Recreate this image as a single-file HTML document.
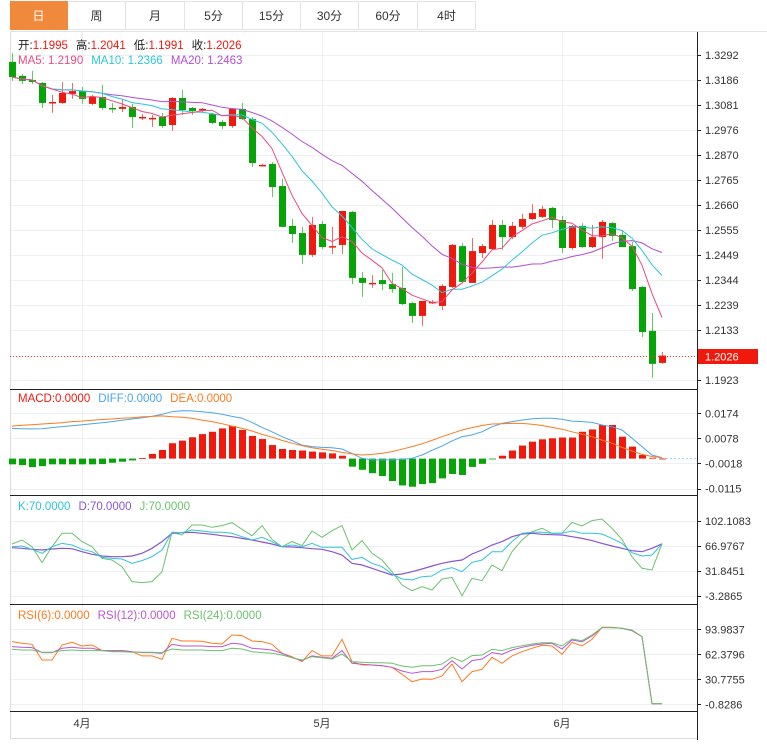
<!DOCTYPE html>
<html><head><meta charset="utf-8"><style>
body{margin:0;background:#fff;font-family:"Liberation Sans","Noto Sans CJK SC",sans-serif;}
#wrap{position:relative;width:767px;height:746px;overflow:hidden;}
.tab{position:absolute;z-index:2;top:1px;height:29px;width:57px;border:1px solid #e3e3e3;border-left:none;font-size:12px;color:#333;text-align:center;line-height:29px;background:#fff;box-sizing:border-box;}
svg{position:absolute;left:0;top:0;z-index:1;}
</style></head><body>
<div id="wrap">
<div class="tab" style="left:10px;width:58px;background:#f0893c;color:#fff;border-color:#f0893c">日</div>
<div class="tab" style="left:68px;width:58px">周</div>
<div class="tab" style="left:126px;width:59px">月</div>
<div class="tab" style="left:185px;width:58px">5分</div>
<div class="tab" style="left:243px;width:58px">15分</div>
<div class="tab" style="left:301px;width:58px">30分</div>
<div class="tab" style="left:359px;width:59px">60分</div>
<div class="tab" style="left:418px;width:58px">4时</div>
<svg id="chart" width="767" height="746"></svg>
</div>
<script>
const opens=[1.3263,1.3204,1.3187,1.3174,1.3090,1.3090,1.3128,1.3140,1.3086,1.3115,1.3069,1.3065,1.3073,1.3027,1.3022,1.3031,1.2997,1.3111,1.3069,1.3060,1.3043,1.3010,1.2993,1.3065,1.3022,1.2824,1.2833,1.2740,1.2572,1.2542,1.2450,1.2580,1.2483,1.2492,1.2631,1.2353,1.2327,1.2344,1.2327,1.2311,1.2247,1.2193,1.2247,1.2235,1.2315,1.2487,1.2332,1.2458,1.2475,1.2576,1.2525,1.2568,1.2601,1.2610,1.2648,1.2597,1.2479,1.2572,1.2483,1.2525,1.2584,1.2534,1.2487,1.2315,1.2130,1.1995];
const highs=[1.3300,1.3212,1.3225,1.3178,1.3124,1.3178,1.3174,1.3157,1.3124,1.3166,1.3090,1.3103,1.3086,1.3043,1.3039,1.3048,1.3115,1.3145,1.3073,1.3069,1.3048,1.3018,1.3069,1.3090,1.3031,1.2833,1.2841,1.2770,1.2601,1.2568,1.2610,1.2593,1.2568,1.2635,1.2635,1.2378,1.2365,1.2386,1.2374,1.2399,1.2252,1.2256,1.2260,1.2327,1.2496,1.2500,1.2521,1.2496,1.2597,1.2597,1.2589,1.2622,1.2664,1.2656,1.2652,1.2614,1.2576,1.2584,1.2576,1.2597,1.2589,1.2555,1.2504,1.2319,1.2205,1.2041];
const lows=[1.3183,1.3170,1.3170,1.3069,1.3048,1.3086,1.3107,1.3086,1.3081,1.3060,1.3048,1.3052,1.2985,1.3018,1.2989,1.2985,1.2972,1.3039,1.3039,1.3052,1.3001,1.2980,1.2985,1.3018,1.2820,1.2824,1.2694,1.2568,1.2500,1.2412,1.2441,1.2475,1.2454,1.2454,1.2327,1.2273,1.2311,1.2302,1.2290,1.2239,1.2163,1.2151,1.2243,1.2218,1.2311,1.2332,1.2332,1.2437,1.2471,1.2471,1.2517,1.2559,1.2597,1.2605,1.2563,1.2458,1.2471,1.2479,1.2479,1.2433,1.2509,1.2483,1.2298,1.2104,1.1932,1.1991];
const closes=[1.3199,1.3183,1.3178,1.3090,1.3094,1.3132,1.3140,1.3107,1.3115,1.3069,1.3065,1.3073,1.3031,1.3031,1.3027,1.2993,1.3111,1.3060,1.3056,1.3065,1.3006,1.2993,1.3065,1.3022,1.2837,1.2829,1.2736,1.2568,1.2538,1.2450,1.2576,1.2483,1.2487,1.2635,1.2353,1.2332,1.2332,1.2327,1.2306,1.2243,1.2193,1.2256,1.2252,1.2319,1.2492,1.2336,1.2466,1.2487,1.2576,1.2525,1.2572,1.2601,1.2626,1.2643,1.2597,1.2479,1.2572,1.2483,1.2525,1.2589,1.2530,1.2483,1.2306,1.2125,1.1991,1.2026];
const priceTicks=["1.3292","1.3186","1.3081","1.2976","1.2870","1.2765","1.2660","1.2555","1.2449","1.2344","1.2239","1.2133","1.1923"];
const macdHist=[-0.0022,-0.0025,-0.0033,-0.0029,-0.0022,-0.0022,-0.0022,-0.0022,-0.0022,-0.0021,-0.0016,-0.0012,-0.0007,0.0002,0.0018,0.0033,0.0059,0.0069,0.0082,0.0094,0.0103,0.0116,0.0125,0.0110,0.0087,0.0075,0.0052,0.0037,0.0033,0.0031,0.0027,0.0024,0.0020,0.0011,-0.0031,-0.0043,-0.0056,-0.0067,-0.0086,-0.0103,-0.0108,-0.0098,-0.0094,-0.0076,-0.0059,-0.0063,-0.0032,-0.0020,-0.0002,0.0011,0.0031,0.0050,0.0065,0.0074,0.0078,0.0081,0.0081,0.0103,0.0112,0.0129,0.0129,0.0084,0.0046,0.0014,0.0003,0.0000];
const diffVals=[0.0116,0.0115,0.0114,0.0115,0.0119,0.0123,0.0126,0.0130,0.0134,0.0138,0.0142,0.0147,0.0152,0.0157,0.0162,0.0170,0.0180,0.0184,0.0183,0.0180,0.0176,0.0170,0.0162,0.0155,0.0139,0.0120,0.0103,0.0084,0.0069,0.0052,0.0046,0.0043,0.0042,0.0037,0.0020,0.0001,-0.0005,-0.0005,-0.0005,-0.0004,0.0001,0.0014,0.0032,0.0048,0.0068,0.0084,0.0091,0.0103,0.0122,0.0135,0.0142,0.0148,0.0153,0.0155,0.0155,0.0151,0.0144,0.0142,0.0139,0.0129,0.0122,0.0110,0.0078,0.0046,0.0014,0.0004];
const deaVals=[0.0125,0.0128,0.0130,0.0133,0.0135,0.0138,0.0142,0.0144,0.0147,0.0150,0.0152,0.0155,0.0157,0.0160,0.0162,0.0164,0.0161,0.0159,0.0155,0.0148,0.0142,0.0134,0.0125,0.0116,0.0106,0.0093,0.0082,0.0070,0.0059,0.0050,0.0042,0.0036,0.0031,0.0024,0.0018,0.0014,0.0016,0.0020,0.0027,0.0036,0.0046,0.0057,0.0070,0.0084,0.0097,0.0110,0.0119,0.0127,0.0133,0.0134,0.0135,0.0135,0.0132,0.0127,0.0120,0.0113,0.0103,0.0094,0.0084,0.0071,0.0059,0.0043,0.0029,0.0016,0.0008,0.0003];
const macdTicks=["0.0174","0.0078","-0.0018","-0.0115"];
const kVals=[66.0,67.0,62.3,56.7,66.0,70.7,68.4,62.3,59.0,51.0,49.6,48.7,42.6,46.4,52.0,61.4,86.2,85.7,89.5,88.1,86.2,86.2,84.8,80.1,75.4,79.2,73.1,66.0,68.4,66.0,70.7,65.1,65.1,65.1,48.2,51.0,42.6,37.9,27.6,20.6,19.2,23.9,24.8,33.3,36.5,30.9,44.0,47.3,59.0,59.0,73.1,84.8,86.2,86.2,84.8,84.8,88.1,84.8,84.8,83.9,77.7,70.7,57.6,52.9,54.3,70.0];
const dVals=[64.6,63.7,62.3,61.4,62.8,63.7,63.2,59.0,55.3,52.9,52.0,52.0,52.9,56.7,63.7,73.1,84.8,85.7,86.2,84.8,83.4,81.5,80.1,77.7,75.4,72.6,69.8,66.0,65.6,64.6,63.2,62.3,59.0,54.3,42.6,40.3,35.6,30.9,26.2,27.6,30.9,34.6,38.9,42.6,45.4,47.3,55.7,61.4,68.4,73.1,80.1,83.9,84.8,83.4,82.9,82.4,80.1,77.7,74.5,70.7,67.0,63.7,60.4,59.0,63.7,70.0];
const jVals=[69.8,75.4,66.0,43.6,66.0,84.8,84.8,73.1,66.0,49.6,47.3,37.9,16.9,15.5,16.9,30.9,86.2,82.4,96.5,96.5,93.2,95.6,99.8,90.4,81.5,95.6,76.3,66.0,73.1,67.5,88.1,79.2,88.5,95.6,61.4,74.5,56.7,47.3,30.9,12.2,4.2,9.8,5.1,20.6,22.9,-2.8,21.6,18.3,40.3,32.3,59.0,75.4,87.1,91.8,84.8,84.8,100.2,95.1,102.6,104.9,91.8,76.3,52.0,35.6,33.3,70.0];
const kdjTicks=["102.1083","66.9767","31.8451","-3.2865"];
const rsi6=[78.4,76.3,75.0,55.2,55.2,74.2,77.5,72.9,74.2,67.0,66.6,67.0,65.7,60.3,60.3,56.0,82.6,79.2,79.2,78.8,76.3,75.4,86.8,86.0,79.2,78.4,75.0,63.6,59.4,53.1,67.0,60.3,60.3,81.3,53.1,48.9,48.9,48.0,45.9,37.1,27.8,31.2,30.8,35.0,50.1,27.8,40.5,43.4,58.6,51.0,60.3,65.7,70.0,73.7,72.9,62.4,77.5,72.9,81.3,96.5,96.5,95.2,92.3,84.7,0.0,0.0];
const rsi12=[72.1,71.2,70.8,64.5,64.5,70.0,71.2,70.0,70.0,67.0,67.0,67.0,65.7,64.5,64.5,63.6,75.0,72.9,72.9,72.9,72.1,72.1,76.3,75.0,70.0,69.1,67.8,63.6,58.1,54.4,60.3,58.6,57.3,67.0,51.0,49.7,48.9,48.0,45.9,41.3,38.4,40.5,40.5,43.4,54.4,43.8,54.4,56.5,64.5,62.4,67.8,71.2,73.7,75.4,76.3,69.1,80.5,78.0,85.5,96.1,96.1,95.2,92.3,84.7,0.0,0.0];
const rsi24=[68.7,67.8,67.8,64.9,64.9,67.0,67.8,67.0,67.0,67.0,65.7,65.7,64.9,64.9,64.9,64.5,69.1,67.8,67.8,67.8,67.0,67.0,70.0,69.1,65.7,64.5,63.6,61.5,58.1,55.2,59.4,58.1,56.5,62.8,53.1,52.3,51.8,51.8,51.0,47.6,45.9,48.0,48.0,50.1,58.6,53.1,60.7,61.5,68.7,67.0,70.8,73.3,75.4,77.1,77.1,72.9,81.7,79.6,86.8,96.1,96.1,95.2,93.1,84.7,0.0,0.0];
const rsiTicks=["93.9837","62.3796","30.7755","-0.8286"];
const monthLabels=["4月","5月","6月"];
const monthIndex=[7,31,55];

const NS="http://www.w3.org/2000/svg";
const svg=document.getElementById('chart');
function mk(tag,attrs,parent){const e=document.createElementNS(NS,tag);for(const k in attrs)e.setAttribute(k,attrs[k]);(parent||svg).appendChild(e);return e;}
const L=10,R=697;
const xAt=i=>12+10*i;
const yP=p=>380-(p-1.1923)*2374;
const yM=v=>458.6-v*2604;
const yK=v=>546-(v-66.9767)/1.4052;
const yR=v=>629.3-(v-93.9837)/1.264;
const RED="#f0190d",GREEN="#06a406";

let e;
e=mk('rect',{x:0,y:0,width:767,height:746,fill:'#fff'});


function hgrid(y){const g=mk('line',{x1:L,x2:R,y1:y,y2:y,stroke:'#edf1f4','stroke-width':1});

}
priceTicks.forEach(t=>hgrid(Math.round(yP(+t))+0.5));
hgrid(Math.round(yP(1.2026))+0.5);
macdTicks.forEach(t=>hgrid(Math.round(yM(+t))+0.5));
kdjTicks.forEach(t=>hgrid(Math.round(yK(+t))+0.5));
rsiTicks.forEach(t=>hgrid(Math.round(yR(+t))+0.5));
monthIndex.forEach(i=>{const g=mk('line',{x1:xAt(i)+0.5,x2:xAt(i)+0.5,y1:32,y2:711,stroke:'#edf1f4'});

});

e=mk('line',{x1:L+0.5,x2:L+0.5,y1:31,y2:739,stroke:'#dcdcdc'});


e=mk('line',{x1:L,x2:767,y1:31.5,y2:31.5,stroke:'#e3e3e3'});


e=mk('line',{x1:L,x2:R,y1:738.5,y2:738.5,stroke:'#dcdcdc'});


[389.5,495.5,604.5,711.5].forEach(y=>{const s=mk('line',{x1:L,x2:R,y1:y,y2:y,stroke:'#222','stroke-width':1});

});
e=mk('line',{x1:R+0.5,x2:R+0.5,y1:32,y2:740,stroke:'#222'});



function tickLabel(txt,y,name){const t=mk('text',{x:705,y:y+4,'font-size':11,fill:'#333'});t.textContent=txt;


const tk=mk('line',{x1:R,x2:R+4,y1:Math.round(y)+0.5,y2:Math.round(y)+0.5,stroke:'#222'});

}
priceTicks.forEach(t=>tickLabel(t,yP(+t),'price-tick-label'));
macdTicks.forEach(t=>tickLabel(t,yM(+t),'macd-tick-label'));
kdjTicks.forEach(t=>tickLabel(t,yK(+t),'kdj-tick-label'));
rsiTicks.forEach(t=>tickLabel(t,yR(+t),'rsi-tick-label'));

monthLabels.forEach((m,k)=>{const t=mk('text',{x:xAt(monthIndex[k]),y:727,'font-size':11,fill:'#333','text-anchor':'middle'});t.textContent=m;

});

function ma(n){return closes.map((c,i)=>{const s=closes.slice(Math.max(0,i-n+1),i+1);return s.reduce((a,b)=>a+b,0)/s.length;});}
function poly(vals,yf,color,name,w){const pts=vals.map((v,i)=>xAt(i)+','+yf(v).toFixed(1)).join(' ');
const p=mk('polyline',{points:pts,fill:'none',stroke:color,'stroke-width':w||1});

return p;}

closes.forEach((c,i)=>{const o=opens[i],up=c>=o,col=up?RED:GREEN,x=xAt(i);
const w=mk('line',{x1:x+0.5,x2:x+0.5,y1:yP(highs[i]),y2:yP(lows[i]),stroke:up?'#f56a60':'#5ccf5c'});


const t=Math.min(yP(o),yP(c)),h=Math.max(1.5,Math.abs(yP(o)-yP(c)));
const b=mk('rect',{x:x-3,y:t,width:7,height:h,fill:col});

});
poly(ma(20),yP,'#b14fd0','ma20-line');
poly(ma(10),yP,'#2fc4dc','ma10-line');
poly(ma(5),yP,'#ef4a7e','ma5-line');

const cy=Math.round(yP(1.2026))+0.5;
e=mk('line',{x1:L,x2:R,y1:cy,y2:cy,stroke:'#f03a2e','stroke-dasharray':'1,2'});


e=mk('rect',{x:698,y:cy-7.5,width:60,height:15,fill:'#f0190d'});


e=mk('text',{x:705,y:cy+4,'font-size':11,fill:'#fff'});e.textContent='1.2026';



e=mk('line',{x1:xAt(65),x2:R,y1:yM(0),y2:yM(0),stroke:'#9fd6f0','stroke-dasharray':'2,2'});


macdHist.forEach((v,i)=>{const y0=yM(0),y1=yM(v);
const b=mk('rect',{x:xAt(i)-3,y:Math.min(y0,y1),width:7,height:Math.max(0.8,Math.abs(y1-y0)),fill:v>=0?RED:GREEN});

});
poly(diffVals,yM,'#4ba6ea','diff-line');
poly(deaVals,yM,'#ff7a1f','dea-line');

poly(jVals,yK,'#6cc26c','j-line');
poly(dVals,yK,'#8a55d0','d-line',1.2);
poly(kVals,yK,'#2fc4dc','k-line');

poly(rsi6,yR,'#ff7a1f','rsi6-line');
poly(rsi12,yR,'#bb55d0','rsi12-line');
poly(rsi24,yR,'#6cc26c','rsi24-line');

function legend(y,items,name){const t=mk('text',{x:18,y:y,'font-size':11.5});


items.forEach(([s,c,dx])=>{const sp=mk('tspan',{fill:c},t);if(dx)sp.setAttribute('dx',dx);sp.textContent=s;});}
legend(49,[['开:','#222'],['1.1995',RED],['高:','#222',8],['1.2041',RED],['低:','#222',8],['1.1991',RED],['收:','#222',8],['1.2026',RED]],'ohlc-legend');
legend(64,[['MA5: 1.2190','#ef4a7e'],['MA10: 1.2366','#2fc4dc',8],['MA20: 1.2463','#b14fd0',8]],'ma-legend');
legend(402,[['MACD:0.0000','#f0190d'],['DIFF:0.0000','#4ba6ea',8],['DEA:0.0000','#ff7a1f',8]],'macd-legend');
legend(510,[['K:70.0000','#2fc4dc'],['D:70.0000','#8a55d0',8],['J:70.0000','#6cc26c',8]],'kdj-legend');
legend(619,[['RSI(6):0.0000','#ff7a1f'],['RSI(12):0.0000','#bb55d0',8],['RSI(24):0.0000','#6cc26c',8]],'rsi-legend');
</script>
</body></html>
